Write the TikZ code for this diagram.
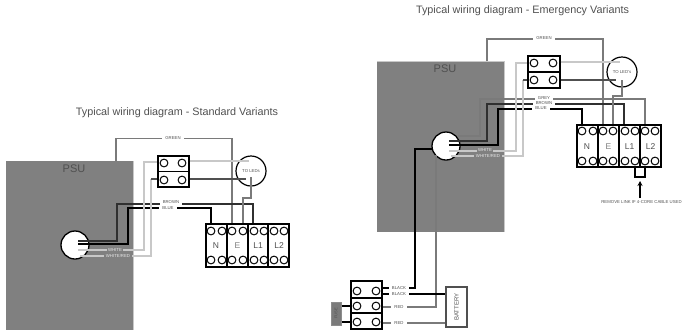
\documentclass[tikz,border=0pt]{standalone}
\usepackage{fontspec}
\setmainfont{Liberation Sans}
\newcommand{\fs}[1]{\fontsize{#1}{#1}\selectfont}
\definecolor{psugrey}{HTML}{808080}
\definecolor{wgrey}{HTML}{7A7A7A}
\definecolor{wlight}{HTML}{C8C8C8}
\definecolor{wdark}{HTML}{505050}
\definecolor{txt}{HTML}{505050}
\tikzset{
  psutext/.style={text=txt,font=\fs{11}},
  titletext/.style={text=txt,font=\fs{10.8}},
  blk/.style={draw=black,line width=1.3pt,fill=white,inner sep=0,minimum width=#1},
  screw/.style={circle,draw=black,line width=1pt,fill=white,minimum size=7.8pt,inner sep=0},
  plugc/.style={circle,draw=black,line width=1.3pt,fill=white,minimum size=28pt,inner sep=0},
  ledc/.style={circle,draw=black,line width=1.2pt,fill=white,minimum size=30pt,inner sep=0},
  term/.style={text=txt,font=\fs{8.5}},
  tiny/.style={text=txt,font=\fs{4.3},fill=white,inner xsep=3pt,inner ysep=0.6pt},
  tinyp/.style={tiny,fill=psugrey,text=wlight!40!white},
  tinyt/.style={text=txt,font=\fs{4.3},inner sep=0},
  wblack/.style={draw=black,line width=1.3pt},
  wdk/.style={draw=wdark!60!black,line width=1.3pt},
  wgr/.style={draw=wgrey,line width=1.2pt},
  wli/.style={draw=wlight,line width=1.2pt},
  wmid/.style={draw=wdark,line width=1.1pt},
  fusebox/.style={draw=wlight!70!black,line width=1pt,fill=wgrey,inner sep=0},
  batt/.style={draw=wdark,line width=1.1pt,fill=white,inner sep=0},
  tip/.style={-{Stealth[length=5pt,width=5pt]},draw=black,line width=1.2pt}
}
\usetikzlibrary{arrows.meta}
\begin{document}
\begin{tikzpicture}[x=1pt,y=-1pt]
\useasboundingbox (0,0) rectangle (685,330);
% ---------- left ----------
\node[titletext] (t1) at (177,113) {Typical wiring diagram - Standard Variants};
\fill[psugrey] (6,161) rectangle (133,330);
\draw[wlight,line width=0.8pt] (133,161) -- (133,330);
\coordinate (psuA) at (116,161);
\node[psutext] (psuAt) at (74,169) {PSU};
\node[plugc] (plugA) at (75,245) {};
\node[blk,minimum width=31pt,minimum height=15.5pt] (fa1) at (173.5,163.75) {};
\node[blk,minimum width=31pt,minimum height=15.5pt] (fa2) at (173.5,179.25) {};
\foreach \n/\x/\y in {a1/164/163,a2/182/163,a3/164/180,a4/182/180}
  \node[screw] (s\n) at (\x,\y) {};
\node[ledc] (ledA) at (251,171) {};
\node[blk,minimum width=21pt,minimum height=43pt] (tN) at (216.5,245.5) {};
\node[blk,minimum width=21pt,minimum height=43pt] (tE) at (237.5,245.5) {};
\node[blk,minimum width=20pt,minimum height=43pt] (tL) at (258,245.5) {};
\node[blk,minimum width=21pt,minimum height=43pt] (tM) at (278.5,245.5) {};
\foreach \i/\x in {1/211,2/222,3/232,4/243,5/254,6/264,7/274,8/284}{
  \node[screw] (pa\i) at (\x,231) {};
  \node[screw] (qa\i) at (\x,260) {};
}
\node[term] at (216,246) {N};
\node[term,text=psugrey] at (237.5,246) {E};
\node[term] at (258,246) {L1};
\node[term] at (279,246) {L2};
\node[tinyt] at (251,171.5) {TO LEDs};
\draw[wgr] (psuA) |- (232,138.5) -- (tE.north -| 232,0);
\draw[wdk] (78,241) -- (117,241) -- (117,204) -- (253,204) -- (tL.north -| 253,0);
\draw[wblack] (78,244) -- (128,244) -- (128,208) -- (211,208) -- (tN.north -| 211,0);
\draw[wli] (78,250) -- (144,250) -- (144,162) -- (fa1.west |- 0,162);
\draw[wli] (80,256) -- (151,256) -- (151,179);
\draw[wmid] (151,179) -- (fa2.west |- 0,179);
\draw[wli] (fa1.east |- 0,161) -- (249,161);
\draw[wmid] (fa2.east |- 0,179) -- (246,179);
\draw[wgr] (251,177) -- (251,198) -- (243,198) -- (tE.north -| 243,0);
\node[tiny] at (173,138.5) {GREEN};
\node[tiny] at (171,202.5) {BROWN};
\node[tiny] at (168,208) {BLUE};
\node[tinyp,inner xsep=1.5pt] at (115,250) {WHITE};
\node[tinyp,inner xsep=1.5pt] at (118,255.5) {WHITE/RED};
% ---------- right ----------
\node[titletext] (t2) at (522.5,11) {Typical wiring diagram - Emergency Variants};
\fill[psugrey] (377,61) rectangle (504,232);
\draw[wlight,line width=0.8pt] (377,61) -- (504,61) -- (504,232);
\coordinate (psuB) at (487,61);
\node[psutext] (psuBt) at (445,69) {PSU};
\node[plugc] (plugB) at (446,146) {};
\node[blk,minimum width=32pt,minimum height=16pt] (fb1) at (544,64) {};
\node[blk,minimum width=32pt,minimum height=16pt] (fb2) at (544,80) {};
\foreach \n/\x/\y in {b1/534/63,b2/553/63,b3/534/80,b4/553/80}
  \node[screw] (s\n) at (\x,\y) {};
\node[ledc] (ledB) at (622,72) {};
\node[blk,minimum width=10pt,minimum height=10pt] (link) at (640,172) {};
\node[blk,minimum width=21pt,minimum height=42pt] (uN) at (587.5,146) {};
\node[blk,minimum width=21pt,minimum height=42pt] (uE) at (608.5,146) {};
\node[blk,minimum width=21pt,minimum height=42pt] (uL) at (629.5,146) {};
\node[blk,minimum width=21pt,minimum height=42pt] (uM) at (650.5,146) {};
\foreach \i/\x in {1/582,2/593,3/603,4/613,5/625,6/635,7/645,8/655}{
  \node[screw] (pb\i) at (\x,131) {};
  \node[screw] (qb\i) at (\x,161) {};
}
\node[term] at (587,147) {N};
\node[term,text=psugrey] at (608.5,147) {E};
\node[term] at (629.5,147) {L1};
\node[term] at (650.5,147) {L2};
\node[tinyt] at (622,72) {TO LED's};
\draw[wgr] (psuB) |- (603,39) -- (uE.north -| 603,0);
\draw[wgr] (458,136) -- (480,136) -- (480,99) -- (645,99) -- (uM.north -| 645,0);
\draw[wdk] (449,141) -- (487,141) -- (487,104) -- (624,104) -- (uL.north -| 624,0);
\draw[wblack] (449,145) -- (498,145) -- (498,109) -- (582,109) -- (uN.north -| 582,0);
\draw[wli] (449,151) -- (516,151) -- (516,63) -- (fb1.west |- 0,63);
\draw[wli] (451,156) -- (523,156) -- (523,80);
\draw[wmid] (523,80) -- (fb2.west |- 0,80);
\draw[wli] (fb1.east |- 0,62) -- (620,62);
\draw[wmid] (fb2.east |- 0,80) -- (616,80);
\draw[wgr] (622,80) -- (622,96) -- (613,96) -- (uE.north -| 613,0);
\node[tiny] at (544,38.5) {GREEN};
\node[tiny,inner ysep=0.3pt] at (544,98.5) {GREY};
\node[tiny,inner ysep=0.3pt] at (544,103.5) {BROWN};
\node[tiny,inner ysep=0.3pt] at (541,108.5) {BLUE};
\node[tinyp,inner xsep=1.5pt] at (485,150.5) {WHITE};
\node[tinyp,inner xsep=1.5pt] at (488,155.5) {WHITE/RED};
\coordinate (arrowfoot) at (640,198);
\draw[tip] (arrowfoot) -- (link.south |- 0,181);
\node[tinyt] at (641.5,202) {REMOVE LINK IF 4-CORE CABLE USED};
% battery block
\node[blk,minimum width=31pt,minimum height=17pt] (bk1) at (366.5,289.5) {};
\node[blk,minimum width=31pt,minimum height=15pt] (bk2) at (366.5,305.5) {};
\node[blk,minimum width=31pt,minimum height=16pt] (bk3) at (366.5,321) {};
\foreach \i/\y in {1/291,2/306,3/322}{
  \node[screw] (bl\i) at (357,\y) {};
  \node[screw] (br\i) at (376,\y) {};
}
\node[batt,minimum width=21pt,minimum height=40pt] (bat) at (456.5,307) {};
\node[rotate=90,text=txt,font=\fs{6}] at (456.5,307) {BATTERY};
\node[fusebox,minimum width=10pt,minimum height=23pt] (fuse) at (336,313.5) {};
\node[rotate=90,text=wdark,font=\fs{4}] at (336,313.5) {FUSE};
\draw[wblack] (fuse.east |- 0,306) -- (bk2.west |- 0,306);
\draw[wblack] (fuse.east |- 0,322) -- (bk3.west |- 0,322);
\draw[wblack] (433,149) -- (415,149) -- (415,288) -- (bk1.east |- 0,288);
\draw[wgr] (436,155) -- (436,307) -- (bk2.east |- 0,307);
\draw[wblack] (bk1.east |- 0,294) -- (bat.west |- 0,294);
\draw[wgr] (bk3.east |- 0,323) -- (bat.west |- 0,323);
\node[tiny] at (399,288) {BLACK};
\node[tiny] at (399,294) {BLACK};
\node[tiny] at (399,307) {RED};
\node[tiny] at (399,323) {RED};
\end{tikzpicture}
\end{document}
